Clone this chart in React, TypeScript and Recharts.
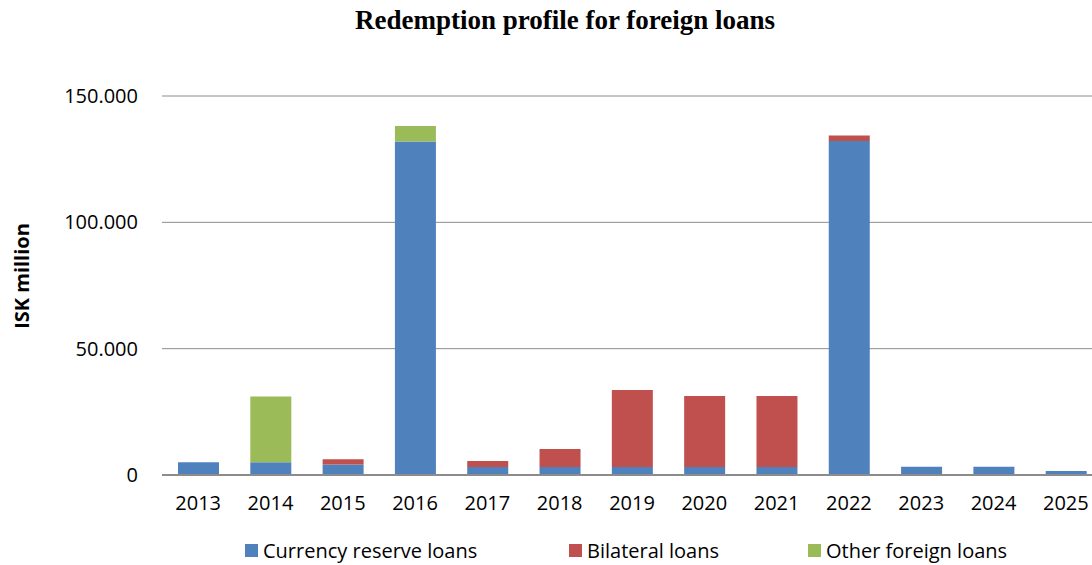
import { BarChart, Bar, XAxis, YAxis, CartesianGrid, Legend, Label } from 'recharts';

const years = ['2013', '2014', '2015', '2016', '2017', '2018', '2019', '2020', '2021', '2022', '2023', '2024', '2025'];
const currencyReserve = [5000, 5000, 4200, 132000, 3200, 3200, 3200, 3200, 3200, 132200, 3300, 3300, 1600];
const bilateral = [0, 0, 2000, 0, 2300, 7100, 30400, 28100, 28100, 2200, 0, 0, 0];
const otherForeign = [0, 26100, 0, 6100, 0, 0, 0, 0, 0, 0, 0, 0, 0];
const yTicks = [0, 50000, 100000, 150000];

const series = [
  { key: 'currency', name: 'Currency reserve loans', color: '#4F81BD' },
  { key: 'bilateral', name: 'Bilateral loans', color: '#C0504D' },
  { key: 'other', name: 'Other foreign loans', color: '#9BBB59' },
];

const data = years.map((year, i) => ({
  year,
  currency: currencyReserve[i],
  bilateral: bilateral[i],
  other: otherForeign[i],
}));

const FONT = '"Open Sans", sans-serif';

// thousands separator is a dot in the original
const fmt = (v: number) => (v === 0 ? '0' : v.toLocaleString('de-DE'));

const itemWidths = [324, 239, 220];

const LegendContent = () => (
  <div style={{ height: 30, display: 'flex', alignItems: 'center', fontFamily: FONT, fontSize: 20, color: '#000' }}>
    {series.map((s, i) => (
      <div key={s.key} style={{ width: itemWidths[i], display: 'flex', alignItems: 'center' }}>
        <span style={{ width: 13, height: 13, background: s.color, marginRight: 5, display: 'inline-block' }} />
        <span>{s.name}</span>
      </div>
    ))}
  </div>
);

const App = () => {
  return (
    <div style={{ position: 'absolute', left: 0, top: 0, width: 1092, height: 565, overflow: 'hidden', background: '#fff' }}>
      <div
        style={{
          position: 'absolute',
          left: 0,
          top: 5,
          width: 1130,
          textAlign: 'center',
          fontFamily: '"Liberation Serif", "Times New Roman", serif',
          fontWeight: 'bold',
          fontSize: 27,
        }}
      >
        Redemption profile for foreign loans
      </div>
      <BarChart width={1110} height={565} data={data} margin={{ top: 96, right: 8, left: 0, bottom: 20 }}>
        <CartesianGrid vertical={false} stroke="#8c8c8c" />
        <XAxis
          dataKey="year"
          height={40}
          tickLine={false}
          axisLine={{ stroke: '#8c8c8c', strokeWidth: 2 }}
          tickMargin={15}
          tick={{ fill: '#000', fontFamily: FONT, fontSize: 20 }}
        />
        <YAxis
          width={162}
          domain={[0, 150000]}
          ticks={yTicks}
          tickFormatter={fmt}
          axisLine={false}
          tickLine={false}
          tickMargin={18}
          tick={{ fill: '#000', fontFamily: FONT, fontSize: 20 }}
        >
          <Label
            content={() => (
              <text
                x={21}
                y={276}
                transform="rotate(-90 21 276)"
                textAnchor="middle"
                dominantBaseline="central"
                fontFamily={FONT}
                fontWeight="bold"
                fontSize={20}
                fill="#000"
              >
                ISK million
              </text>
            )}
          />
        </YAxis>
        <Legend verticalAlign="bottom" content={<LegendContent />} wrapperStyle={{ left: 245, bottom: 0, width: 850 }} />
        {series.map((s) => (
          <Bar key={s.key} dataKey={s.key} name={s.name} stackId="a" fill={s.color} barSize={41} isAnimationActive={false} />
        ))}
      </BarChart>
    </div>
  );
};

export default App;
